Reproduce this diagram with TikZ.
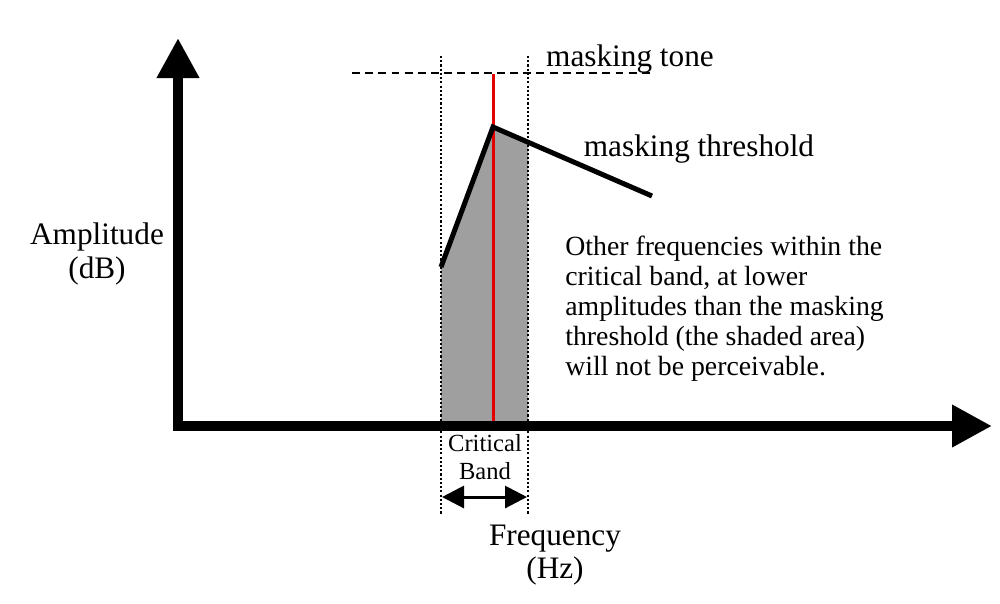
\documentclass[tikz,border=0pt]{standalone}
\usepackage{fontspec}
\setmainfont{Liberation Serif}
\usetikzlibrary{arrows.meta}

\tikzset{
  axisline/.style={line width=0.2cm, -{Triangle[length=0.8cm,width=0.8cm]}},
  bandline/.style={line width=1.5pt, dash pattern=on 1.2pt off 1.2pt},
  toneline/.style={line width=1.6pt, dash pattern=on 4.5pt off 3pt},
  threshline/.style={line width=0.1cm, line join=miter},
  lbl/.style={font=\fontsize{17.8}{20}\selectfont, inner sep=0pt},
  note/.style={font=\fontsize{15.8}{17}\selectfont, align=left, inner sep=0pt, anchor=north west}
}

\begin{document}
\begin{tikzpicture}[x=0.02cm, y=-0.02cm]
\useasboundingbox (0,0) rectangle (1000,603);

%axes
\coordinate (origin) at (178,426);
\coordinate (ytop) at (178,38);
\coordinate (xend) at (992,426);

%critical band edges
\coordinate (bandLtop) at (441,56);
\coordinate (bandLbot) at (441,515);
\coordinate (bandRtop) at (528,56);
\coordinate (bandRbot) at (528,515);

%masking threshold
\coordinate (thrA) at (441,267);
\coordinate (thrP) at (493,127);
\coordinate (thrB) at (652,196);
\coordinate (thrC) at (528,142);

\fill[gray!75] (441,426) -- (thrA) -- (thrP) -- (thrC) -- (528,426) -- cycle;

\draw[bandline] (bandLtop) -- (bandLbot);
\draw[bandline] (bandRtop) -- (bandRbot);

\draw[toneline] (352,73) -- (652,73);
\draw[red!90!black, line width=0.06cm] (493,74) -- (493,426);

\draw[threshline] (thrA) -- (thrP) -- (thrB);

\draw[axisline] (173,426) -- (xend);
\draw[axisline] (origin) ++(0,5) -- (ytop);

\draw[line width=0.06cm, {Triangle[length=0.44cm,width=0.44cm]}-{Triangle[length=0.44cm,width=0.44cm]}] (442,497) -- (527,497);

\node[lbl] (tone) at (630,59) {masking tone};
\node[lbl] (thr) at (699,149) {masking threshold};
\node[lbl, align=center] (amp) at (97,254) {Amplitude\\[-1pt](dB)};
\node[lbl, align=center] (freq) at (555,555) {Frequency\\[-1pt](Hz)};
\node[font=\fontsize{14}{15.5}\selectfont, align=center, inner sep=0pt] (band) at (485,457) {Critical\\Band};
\node[note] (other) at (565,236) {Other frequencies within the\\critical band, at lower\\amplitudes than the masking\\threshold (the shaded area)\\will not be perceivable.};
\end{tikzpicture}
\end{document}
